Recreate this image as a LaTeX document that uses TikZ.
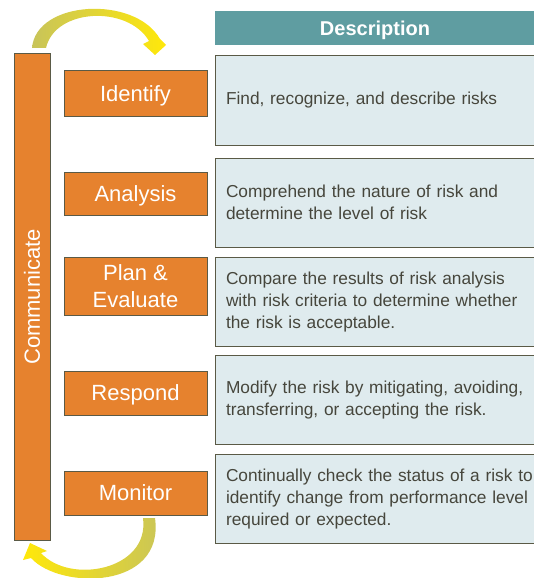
\documentclass[tikz,border=0pt]{standalone}
\usepackage{fontspec}
\setmainfont{Liberation Sans}
\usepackage{xcolor}
\definecolor{riskorange}{RGB}{230,130,46}
\definecolor{riskedge}{RGB}{90,90,70}
\definecolor{descfill}{RGB}{223,235,238}
\definecolor{headteal}{RGB}{95,157,161}
\definecolor{desctext}{RGB}{70,70,60}
\definecolor{arrowolive}{RGB}{200,196,90}
\definecolor{arrowyellow}{RGB}{255,232,10}
\usepackage{tikz}

\begin{document}
\begin{tikzpicture}[x=1pt,y=-1pt,
  stepbox/.style={draw=riskedge, fill=riskorange, line width=1pt, text=white,
    minimum width=143pt, inner sep=0pt, align=center, text depth=0pt,
    font=\fontsize{22}{27}\selectfont},
  descbox/.style={draw=riskedge, fill=descfill, line width=1pt, text=desctext,
    minimum height=89pt, text width=315pt, inner xsep=11pt, inner ysep=0pt,
    align=left, font=\fontsize{17.3}{21.7}\selectfont}]
  \clip (0,0) rectangle (534,578);
  %\draw[red] (0,0) rectangle (534,578);

  \node (head) at (375,28) [fill=headteal, text=white, minimum width=320pt,
    minimum height=34pt, text depth=0pt,
    font=\fontsize{20}{24}\selectfont\bfseries] {Description};

  \node (comm) at (32,297) [stepbox, rotate=90, minimum width=486pt,
    minimum height=36pt] {Communicate};

  \node (identify) at (135.5,93.5) [stepbox, minimum height=45pt] {Identify};
  \node (analysis) at (135.5,193.5) [stepbox, minimum height=43pt] {Analysis};
  \node (plan) at (135.5,286) [stepbox, minimum height=58pt] {Plan \&\\Evaluate};
  \node (respond) at (135.5,393) [stepbox, minimum height=44pt] {Respond};
  \node (monitor) at (135.5,493) [stepbox, minimum height=44pt] {Monitor};

  \node (d1) at (383.5,100.5) [descbox] {Find, recognize, and describe risks};
  \node (d2) at (383.5,202.5) [descbox] {Comprehend the nature of risk and\\
    determine the level of risk};
  \node (d3) at (383.5,302) [descbox] {Compare the results of risk analysis\\
    with risk criteria to determine whether\\the risk is acceptable.};
  \node (d4) at (383.5,400) [descbox] {Modify the risk by mitigating, avoiding,\\
    transferring, or accepting the risk.};
  \node (d5) at (383.5,499) [descbox] {Continually check the status of a risk to\\
    identify change from performance level\\required or expected.};

  % curved arrows
  \shade[left color=arrowolive, right color=arrowyellow]
    (32,48) .. controls (36,0) and (135,-5) .. (160,39) -- (166,45)
    -- (155,55) -- (143,44) -- (149,41)
    .. controls (128,5) and (55,8) .. (46,48) -- cycle;
  \shade[left color=arrowyellow, right color=arrowolive]
    (155,518) .. controls (165,590) and (60,590) .. (31,558) -- (23,560)
    -- (30,543) -- (47,551) -- (41,553)
    .. controls (70,585) and (150,570) .. (143,518) -- cycle;
\end{tikzpicture}
\end{document}
